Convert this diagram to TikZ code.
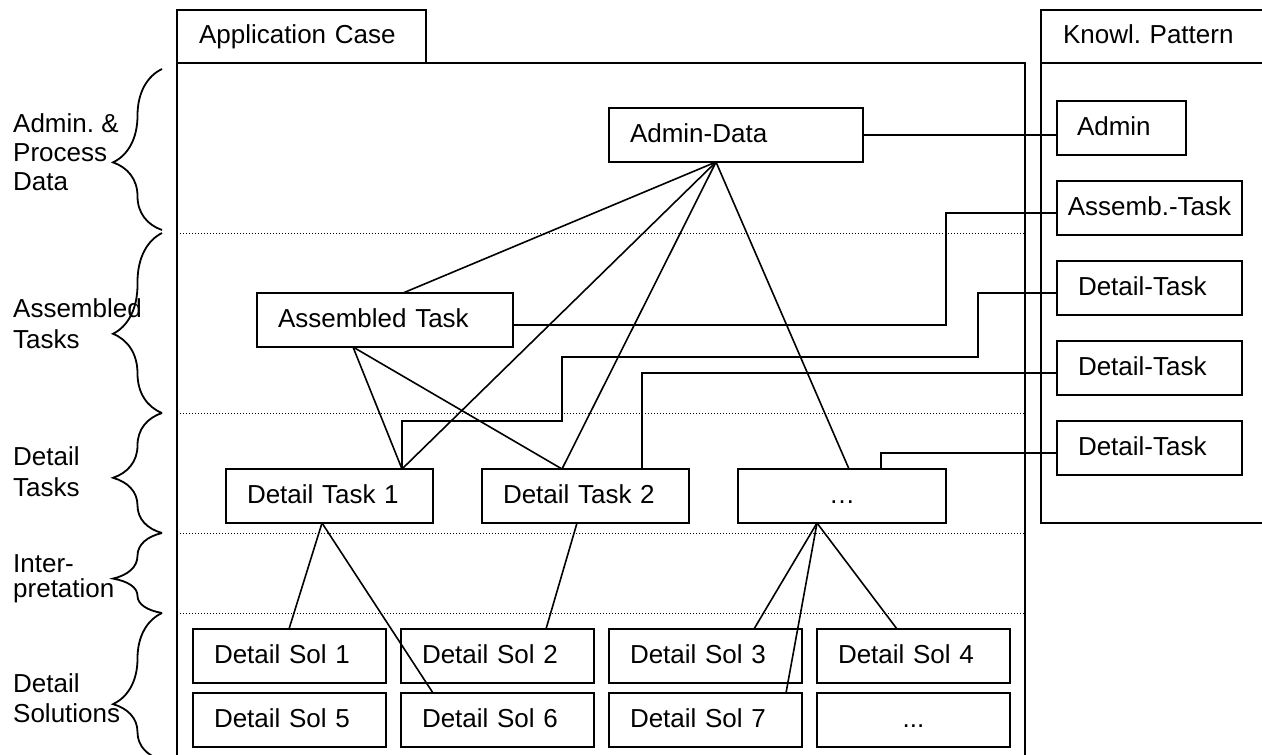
\documentclass[tikz,border=0pt]{standalone}
\usepackage{fontspec}
\setmainfont{Liberation Sans}
\frenchspacing
\usetikzlibrary{decorations.pathreplacing,calc}

\begin{document}
\begin{tikzpicture}[x=1pt, y=-1pt,
    every node/.style={font=\fontsize{26}{30}\selectfont},
    box/.style={draw, line width=1.9pt, anchor=north west, outer sep=0pt,
      minimum height=54pt, inner xsep=21pt, inner ysep=0pt,
      text height=19pt, text depth=5pt, align=left},
    link/.style={line width=1.6pt},
    layer/.style={line width=1pt, dash pattern=on 1pt off 2pt},
    grp/.style={decorate, decoration={brace, amplitude=49pt, aspect=#1}, line width=1.8pt},
    side/.style={anchor=north west, align=left, inner sep=0pt}]
  \useasboundingbox (0,0) rectangle (1262,755);

  % frames
  \node[box, minimum height=53pt, inner xsep=22pt, text width=205pt] (apptab) at (177,10) {Application Case};
  \draw[line width=1.9pt] (177,765) -- (177,63) -- (1025,63) -- (1025,765);
  \node[box, minimum height=53pt, inner xsep=22pt, text width=196pt] (kptab) at (1041,10) {Knowl. Pattern};
  \draw[line width=1.9pt] (1290,63) -- (1041,63) -- (1041,523) -- (1290,523);

  % layers
  \foreach \y in {233,413,533,613}
    \draw[layer] (177,\y) -- (1025,\y);

  % braces and their labels
  \foreach \a/\b/\asp in {230/69/0.42, 413/233/0.44, 533/413/0.46, 613/533/0.43, 760/613/0.38}
    \draw[grp=\asp] (162,\a) -- (162,\b);
  \node[side, font=\fontsize{26}{29}\selectfont] (lbladm) at (13,113) {\rule{0pt}{19pt}Admin. \&\\Process\\Data};
  \node[side, font=\fontsize{26}{31}\selectfont] (lblasm) at (13,298) {\rule{0pt}{19pt}Assembled\\Tasks};
  \node[side, font=\fontsize{26}{31}\selectfont] (lbldt) at (13,446) {\rule{0pt}{19pt}Detail\\Tasks};
  \node[side, font=\fontsize{26}{25}\selectfont] (lblint) at (13,553) {\rule{0pt}{19pt}Inter-\\pretation};
  \node[side, font=\fontsize{26}{30}\selectfont] (lblsol) at (13,673) {\rule{0pt}{19pt}Detail\\Solutions};

  % application case
  \node[box, text width=212pt] (admindata) at (609,108) {Admin-Data};
  \node[box, text width=214pt] (assembled) at (257,293) {Assembled Task};
  \node[box, text width=165pt] (dtask1) at (226,469) {Detail Task 1};
  \node[box, text width=165pt] (dtask2) at (482,469) {Detail Task 2};
  \node[box, text width=166pt, align=center] (dtask3) at (738,469) {…};
  \foreach \n/\x/\y/\t in {1/193/629/Detail Sol 1, 2/401/629/Detail Sol 2,
      3/609/629/Detail Sol 3, 4/817/629/Detail Sol 4, 5/193/693/Detail Sol 5,
      6/401/693/Detail Sol 6, 7/609/693/Detail Sol 7}
    \node[box, text width=151pt] (sol\n) at (\x,\y) {\t};
  \node[box, text width=151pt, align=center] (sol8) at (817,693) {...};

  % knowledge pattern
  \node[box, inner xsep=20pt, text width=89pt] (kadmin) at (1057,101) {Admin};
  \node[box, inner xsep=5pt, text width=175pt, align=center] (kassemb) at (1057,181) {Assemb.-Task};
  \foreach \n/\y in {1/261, 2/341, 3/421}
    \node[box, text width=143pt] (kdt\n) at (1057,\y) {Detail-Task};

  % links to the pattern
  \draw[link] (admindata.east) -- (admindata.east -| kadmin.west);
  \draw[link] ([yshift=-5pt]assembled.east) -- ++(433,0) |- ([yshift=-5pt]kassemb.west);
  \draw[link] ([yshift=-5pt]kdt1.west) -- ++(-79,0) -- ++(0,64) -- ++(-416,0) -- ++(0,64)
    -| ($(dtask1.north west)+(176,0)$);
  \draw[link] ([yshift=-5pt]kdt2.west) -| ($(dtask2.north west)+(160,0)$);
  \draw[link] ([yshift=-5pt]kdt3.west) -| ($(dtask3.north west)+(143,0)$);

  % tree
  \foreach \t/\o in {assembled/146, dtask1/176, dtask2/80, dtask3/111}
    \draw[link] ($(admindata.south west)+(107,0)$) -- ($(\t.north west)+(\o,0)$);
  \foreach \t/\o in {dtask1/176, dtask2/80}
    \draw[link] ($(assembled.south west)+(96,0)$) -- ($(\t.north west)+(\o,0)$);
  \foreach \t/\o in {sol1/96, sol6/32}
    \draw[link] ($(dtask1.south west)+(96,0)$) -- ($(\t.north west)+(\o,0)$);
  \draw[link] ($(dtask2.south west)+(95,0)$) -- ($(sol2.north west)+(145,0)$);
  \foreach \t/\o in {sol3/145, sol7/177, sol4/80}
    \draw[link] ($(dtask3.south west)+(79,0)$) -- ($(\t.north west)+(\o,0)$);
\end{tikzpicture}
\end{document}
